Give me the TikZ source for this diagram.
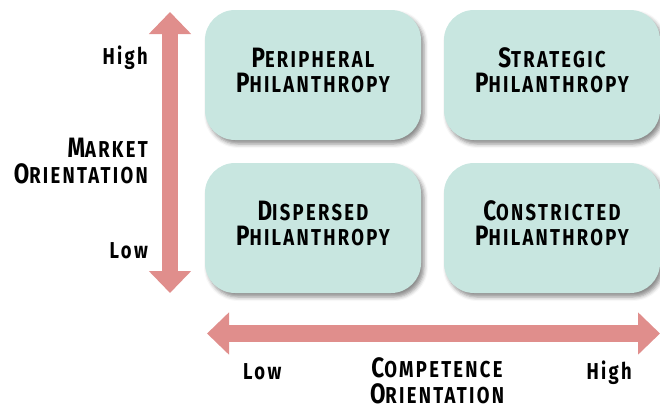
\documentclass[tikz,border=0pt]{standalone}
\usepackage{fontspec}
\setmainfont{Fira Sans}[FakeStretch=0.8,LetterSpace=10]
\usetikzlibrary{arrows.meta,shadows.blur}

\definecolor{cellfill}{RGB}{200,230,224}
\definecolor{axisred}{RGB}{224,142,140}

% small caps built from two sizes: initial capital, then smaller capitals
\newcommand\smcap[2]{{\fontsize{28}{25}\selectfont #1}{\fontsize{23}{25}\selectfont #2}}

\tikzset{
  cell/.style={fill=cellfill, rounded corners=30pt, minimum width=216pt,
    minimum height=130pt, align=center, inner sep=0pt, text depth=10pt,
    font=\bfseries\fontsize{28}{25}\selectfont,
    blur shadow={shadow xshift=3pt, shadow yshift=-4pt,
      shadow blur radius=4pt, shadow opacity=45}},
  axislabel/.style={font=\bfseries\fontsize{28}{26}\selectfont, inner sep=0pt},
  ticklabel/.style={font=\bfseries\fontsize{23}{23}\selectfont, inner sep=0pt},
  axisline/.style={draw=axisred, line width=16.5pt,
    {Triangle[length=22pt,width=41pt]}-{Triangle[length=22pt,width=41pt]}},
}

\begin{document}
\begin{tikzpicture}[x=1pt,y=-1pt]
  \useasboundingbox (0,0) rectangle (660,408);

  % quadrant cells
  \node[cell] (peripheral) at (313,75)
    {\smcap{P}{ERIPHERAL}\\\smcap{P}{HILANTHROPY}};
  \node[cell] (strategic) at (552,75)
    {\smcap{S}{TRATEGIC}\\\smcap{P}{HILANTHROPY}};
  \node[cell] (dispersed) at (313,228)
    {\smcap{D}{ISPERSED}\\\smcap{P}{HILANTHROPY}};
  \node[cell] (constricted) at (552,228)
    {\smcap{C}{ONSTRICTED}\\\smcap{P}{HILANTHROPY}};

  % axes
  \coordinate (vtop) at (170,12);
  \coordinate (vbot) at (170,293);
  \coordinate (hleft) at (207,333.5);
  \coordinate (hright) at (660,333.5);
  \draw[axisline] (vbot) -- (vtop);
  \draw[axisline] (hleft) -- (hright);

  % vertical axis labels (base anchor sits on the last line)
  \node[ticklabel, anchor=base east] (mhigh) at (148,64) {High};
  \node[ticklabel, anchor=base east] (mlow) at (148,258) {Low};
  \node[axislabel, anchor=base east, align=right] (market) at (148,183)
    {\smcap{M}{ARKET}\\\smcap{O}{RIENTATION}};

  % horizontal axis labels
  \node[ticklabel, anchor=base west] (clow) at (243,379) {Low};
  \node[ticklabel, anchor=base east] (chigh) at (632,379) {High};
  \node[axislabel, anchor=base, align=center] (competence) at (437,403)
    {\smcap{C}{OMPETENCE}\\\smcap{O}{RIENTATION}};
\end{tikzpicture}
\end{document}
